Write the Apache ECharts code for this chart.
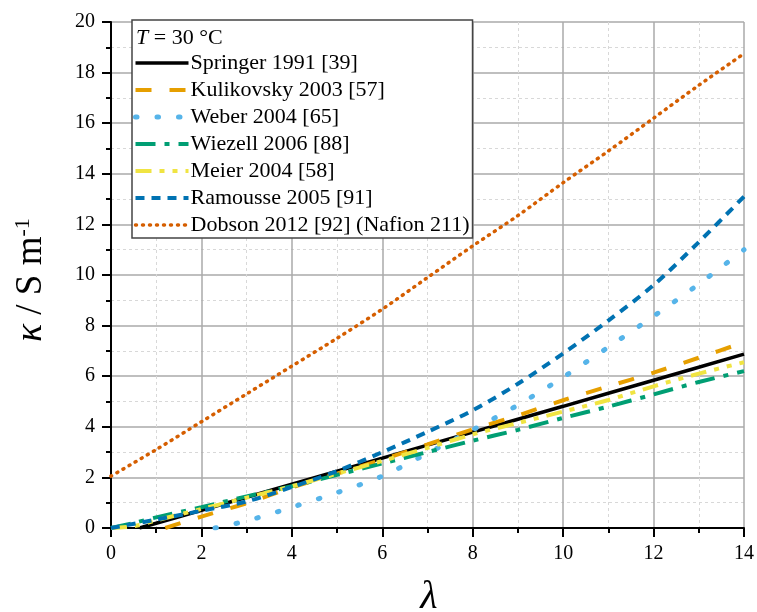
<!DOCTYPE html>
<html><head><meta charset="utf-8">
<script src="https://cdn.jsdelivr.net/npm/echarts@6/dist/echarts.min.js"></script>
<style>html,body{margin:0;padding:0;background:#fff}#c{width:757px;height:612px}</style>
</head><body><div id="c"></div>
<script>
const seriesNames = ['Springer 1991 [39]','Kulikovsky 2003 [57]','Weber 2004 [65]','Wiezell 2006 [88]','Meier 2004 [58]','Ramousse 2005 [91]','Dobson 2012 [92] (Nafion 211)'];
const springer = [[0.63,0],[2,0.70],[4,1.73],[6,2.76],[8,3.79],[10,4.81],[12,5.84],[14,6.87]];
const kulikovsky = [[1.2,0],[2,0.45],[3,0.98],[4,1.6],[5,2.15],[6,2.7],[7,3.3],[8,3.9],[9,4.45],[10,5.05],[11,5.6],[12,6.14],[13,6.73],[14,7.34]];
const weber = [[2.3,0],[3,0.28],[4,0.82],[5,1.4],[6,2.05],[7,2.95],[8,3.88],[9,4.86],[10,5.96],[11,7.15],[12,8.37],[13,9.64],[14,11.0]];
const wiezell = [[0,0],[0.5,0.2],[1,0.42],[2,0.82],[3,1.25],[4,1.65],[5,2.1],[6,2.55],[7,3.0],[8,3.45],[9,3.88],[10,4.35],[11,4.8],[12,5.28],[13,5.77],[14,6.2]];
const meier = [[0,0],[0.5,0.07],[1,0.3],[2,0.75],[3,1.2],[4,1.65],[5,2.15],[6,2.65],[7,3.17],[8,3.7],[9,4.15],[10,4.6],[11,5.06],[12,5.6],[13,6.1],[14,6.55]];
const ramousse = [[0,0],[1,0.33],[2,0.68],[3,1.05],[4,1.62],[5,2.25],[6,3.0],[7,3.8],[8,4.65],[9,5.7],[10,6.9],[11,8.2],[12,9.6],[13,11.3],[14,13.1]];
const dobson = [[0,2.05],[1,3.1],[2,4.2],[3,5.3],[4,6.4],[5,7.5],[6,8.65],[7,9.9],[8,11.15],[9,12.35],[10,13.65],[11,14.9],[12,16.2],[13,17.5],[14,18.75]];
const colors = ['#000000','#E69F00','#56B4E9','#009E73','#F0E442','#0072B2','#D55E00'];
const dashes = ['solid',[16,18],[1.5,20],[20,9,5,9],[16,8,5,8,5,8],[9,7],[1,6]];
const caps = ['butt','butt','round','butt','butt','butt','round'];
const widths = [3.5,4,5,4,4,4,3.5];
const datasets = [springer,kulikovsky,weber,wiezell,meier,ramousse,dobson];

const serif = 'Liberation Serif, Times New Roman, serif';
const chart = echarts.init(document.getElementById('c'));
chart.setOption({
  animation:false,
  grid:{left:111,right:11,top:22,bottom:84},
  xAxis:{type:'value',min:0,max:14,interval:2,
    axisLine:{onZero:false,lineStyle:{color:'#000',width:2}},
    axisTick:{length:9,lineStyle:{color:'#000',width:2}},
    minorTick:{show:true,splitNumber:2,length:5,lineStyle:{color:'#000',width:2}},
    splitLine:{lineStyle:{color:'#aaa',width:1.5}},
    minorSplitLine:{show:true,lineStyle:{color:'#d8d8d8',type:[3,3]}},
    axisLabel:{color:'#000',fontFamily:serif,fontSize:20,margin:16}},
  yAxis:{type:'value',min:0,max:20,interval:2,
    axisLine:{onZero:false,lineStyle:{color:'#000',width:2}},
    axisTick:{length:9,lineStyle:{color:'#000',width:2}},
    minorTick:{show:true,splitNumber:2,length:5,lineStyle:{color:'#000',width:2}},
    splitLine:{lineStyle:{color:'#aaa',width:1.5}},
    minorSplitLine:{show:true,lineStyle:{color:'#d8d8d8',type:[3,3]}},
    axisLabel:{color:'#000',fontFamily:serif,fontSize:20,margin:16}},
  legend:{orient:'vertical',left:132,top:20,padding:[32,3,2,1],itemGap:5,
    itemWidth:53,itemHeight:14,borderColor:'#444',borderWidth:1.5,backgroundColor:'#fff',
    itemStyle:{opacity:0},
    lineStyle:{width:'inherit',type:'inherit',cap:'inherit'},
    textStyle:{fontFamily:serif,fontSize:22,lineHeight:22,color:'#000',padding:[0,0,0,-3]},
    data:seriesNames},
  graphic:[
    {type:'text',left:136,top:27,z:100,style:{rich:{i:{fontFamily:serif,fontSize:22,fontStyle:'italic'},n:{fontFamily:serif,fontSize:22}},text:'{i|T}{n| = 30 °C}',fill:'#000'}},
    {type:'text',x:31,y:280,rotation:Math.PI/2,z:100,style:{text:'{k|κ}{n| / S m}{s|-1}',align:'center',verticalAlign:'middle',
      rich:{k:{fontFamily:serif,fontSize:37,fontStyle:'italic'},n:{fontFamily:serif,fontSize:37},s:{fontFamily:serif,fontSize:22,verticalAlign:'top',padding:[0,0,16,0]}},fill:'#000'}},
    {type:'text',x:429,y:597,style:{text:'λ',align:'center',verticalAlign:'middle',fontFamily:serif,fontSize:40,fontStyle:'italic',fill:'#000'}}
  ],
  series: datasets.map((d,i)=>({name:seriesNames[i],type:'line',data:d,showSymbol:false,symbol:'none',smooth:0.3,
    clip:true,color:colors[i],
    lineStyle:{color:colors[i],width:widths[i],type:dashes[i],cap:caps[i]}}))
});
</script></body></html>
